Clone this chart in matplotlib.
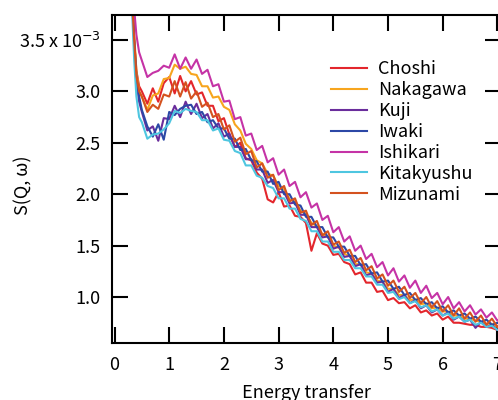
import matplotlib
matplotlib.use("Agg")
import matplotlib.pyplot as plt

plt.rcParams['font.family'] = ['Noto Sans CJK JP', 'DejaVu Sans']

# energy grid (shared by all samples)
energy = [0.32, 0.36, 0.40, 0.45] + [round(0.5 + 0.1 * i, 2) for i in range(67)]

names = ['Choshi', 'Nakagawa', 'Kuji', 'Iwaki', 'Ishikari', 'Kitakyushu', 'Mizunami']
colors = ['#e3262c', '#f7a51e', '#6a2d9c', '#2c48a6', '#c533a6', '#4ec6e0', '#d4521f']

choshi = [3.90, 3.50, 3.20, 3.05,
          3.00, 2.88, 3.03, 2.90, 3.08, 3.14, 2.98, 3.15, 3.00, 3.10,
          2.97, 2.99, 2.86, 2.86, 2.71, 2.74, 2.58, 2.46, 2.50, 2.35,
          2.33, 2.21, 2.15, 1.95, 1.92, 2.02, 1.88, 1.89, 1.79, 1.78,
          1.72, 1.45, 1.62, 1.52, 1.50, 1.41, 1.42, 1.34, 1.32, 1.22,
          1.24, 1.14, 1.14, 1.05, 1.06, 0.97, 0.99, 0.94, 0.95, 0.89,
          0.92, 0.85, 0.87, 0.82, 0.84, 0.78, 0.81, 0.75, 0.75, 0.74,
          0.73, 0.73, 0.71, 0.71, 0.70, 0.68, 0.68]

nakagawa = [3.90, 3.55, 3.20, 3.00,
            2.95, 2.82, 2.96, 2.98, 3.12, 3.13, 3.26, 3.22, 3.24, 3.17,
            3.16, 3.05, 3.05, 2.94, 2.95, 2.85, 2.82, 2.68, 2.62, 2.49,
            2.44, 2.33, 2.30, 2.20, 2.18, 2.08, 2.05, 1.95, 1.93, 1.84,
            1.81, 1.72, 1.69, 1.61, 1.59, 1.50, 1.48, 1.42, 1.40, 1.32,
            1.32, 1.24, 1.23, 1.16, 1.15, 1.08, 1.08, 1.02, 1.02, 0.97,
            0.98, 0.93, 0.94, 0.89, 0.90, 0.86, 0.86, 0.82, 0.82, 0.79,
            0.79, 0.77, 0.76, 0.74, 0.74, 0.71, 0.71]

kuji = [3.90, 3.45, 3.10, 2.90,
        2.80, 2.62, 2.66, 2.52, 2.74, 2.73, 2.86, 2.75, 2.90, 2.78,
        2.88, 2.74, 2.78, 2.64, 2.69, 2.56, 2.59, 2.46, 2.46, 2.34,
        2.34, 2.24, 2.24, 2.11, 2.14, 2.02, 2.02, 1.91, 1.92, 1.80,
        1.80, 1.68, 1.68, 1.58, 1.59, 1.47, 1.49, 1.39, 1.40, 1.30,
        1.32, 1.21, 1.23, 1.14, 1.15, 1.05, 1.08, 0.99, 1.02, 0.94,
        0.97, 0.89, 0.92, 0.85, 0.88, 0.82, 0.85, 0.78, 0.81, 0.76,
        0.78, 0.70, 0.76, 0.71, 0.73, 0.68, 0.70]

iwaki = [3.95, 3.50, 3.15, 2.95,
         2.82, 2.66, 2.56, 2.68, 2.53, 2.80, 2.77, 2.83, 2.86, 2.87,
         2.78, 2.80, 2.70, 2.72, 2.64, 2.64, 2.54, 2.54, 2.43, 2.44,
         2.33, 2.32, 2.22, 2.22, 2.10, 2.12, 2.00, 2.00, 1.90, 1.89,
         1.78, 1.78, 1.68, 1.68, 1.58, 1.58, 1.49, 1.49, 1.40, 1.40,
         1.31, 1.32, 1.23, 1.24, 1.15, 1.16, 1.08, 1.10, 1.02, 1.04,
         0.97, 0.99, 0.93, 0.95, 0.89, 0.91, 0.85, 0.87, 0.82, 0.84,
         0.79, 0.81, 0.76, 0.78, 0.73, 0.75, 0.72]

ishikari = [3.95, 3.80, 3.55, 3.38,
            3.30, 3.14, 3.18, 3.20, 3.25, 3.23, 3.36, 3.22, 3.33, 3.22,
            3.31, 3.17, 3.21, 3.05, 3.07, 2.90, 2.91, 2.73, 2.75, 2.57,
            2.59, 2.43, 2.47, 2.31, 2.35, 2.19, 2.24, 2.08, 2.12, 1.97,
            2.02, 1.87, 1.91, 1.75, 1.79, 1.63, 1.68, 1.54, 1.59, 1.45,
            1.50, 1.37, 1.42, 1.29, 1.34, 1.21, 1.28, 1.15, 1.21, 1.09,
            1.16, 1.04, 1.11, 0.99, 1.04, 0.93, 1.00, 0.89, 0.95, 0.86,
            0.92, 0.83, 0.88, 0.80, 0.85, 0.77, 0.81]

kitakyushu = [3.80, 3.30, 2.95, 2.75,
              2.70, 2.54, 2.58, 2.59, 2.63, 2.69, 2.81, 2.79, 2.83, 2.81,
              2.80, 2.72, 2.72, 2.62, 2.64, 2.53, 2.52, 2.42, 2.40, 2.28,
              2.28, 2.18, 2.16, 2.08, 2.06, 1.96, 1.96, 1.86, 1.86, 1.76,
              1.74, 1.64, 1.64, 1.54, 1.54, 1.44, 1.44, 1.36, 1.36, 1.28,
              1.28, 1.20, 1.20, 1.12, 1.12, 1.04, 1.05, 0.98, 1.00, 0.94,
              0.96, 0.90, 0.92, 0.86, 0.88, 0.82, 0.84, 0.79, 0.81, 0.76,
              0.78, 0.73, 0.75, 0.71, 0.72, 0.68, 0.70]

mizunami = [3.90, 3.50, 3.15, 3.00,
            2.95, 2.80, 2.87, 2.83, 2.97, 2.95, 3.10, 2.95, 3.09, 2.93,
            3.00, 2.85, 2.89, 2.75, 2.78, 2.63, 2.67, 2.51, 2.55, 2.39,
            2.42, 2.26, 2.30, 2.16, 2.19, 2.04, 2.08, 1.93, 1.96, 1.82,
            1.84, 1.70, 1.74, 1.60, 1.64, 1.51, 1.54, 1.43, 1.46, 1.34,
            1.38, 1.26, 1.30, 1.18, 1.22, 1.11, 1.16, 1.05, 1.10, 0.99,
            1.04, 0.94, 1.00, 0.90, 0.96, 0.86, 0.92, 0.82, 0.89, 0.79,
            0.85, 0.76, 0.82, 0.73, 0.79, 0.71, 0.76]

series = [choshi, nakagawa, kuji, iwaki, ishikari, kitakyushu, mizunami]

xticks = [0, 1, 2, 3, 4, 5, 6, 7]
yticks = [1.0, 1.5, 2.0, 2.5, 3.0, 3.5]
ytick_labels = ['1.0', '1.5', '2.0', '2.5', '3.0', r'3.5 x 10$^{-3}$']

fig = plt.figure(figsize=(4.98, 4.0), dpi=100)
ax = fig.add_axes([112 / 498, 57 / 400, 389 / 498, 328 / 400])

for name, vals, col in zip(names, series, colors):
    ax.plot(energy, vals, color=col, lw=1.5, label=name)

ax.set_xlim(-0.046, 7.066)
ax.set_ylim(0.553, 3.743)
ax.set_xticks(xticks)
ax.set_yticks(yticks)
ax.set_yticklabels(ytick_labels)

for s in ax.spines.values():
    s.set_linewidth(1.5)
ax.tick_params(direction='in', length=11.5, width=1.5, top=True, right=True,
               labelsize=13, colors='black')
ax.tick_params(axis='y', pad=8)
ax.tick_params(axis='x', pad=9)

ax.set_xlabel('Energy transfer', fontsize=13)
ax.xaxis.set_label_coords(0.5, -0.125)
ax.set_ylabel('S(Q, ω)', fontsize=13)
ax.yaxis.set_label_coords(-0.205, 0.48)

ax.legend(loc='upper left', bbox_to_anchor=(0.563, 0.862), frameon=False,
          fontsize=13, handlelength=2.0, handletextpad=0.6,
          labelspacing=0.16, borderpad=0, borderaxespad=0)

fig.savefig('out.png', dpi=100)
